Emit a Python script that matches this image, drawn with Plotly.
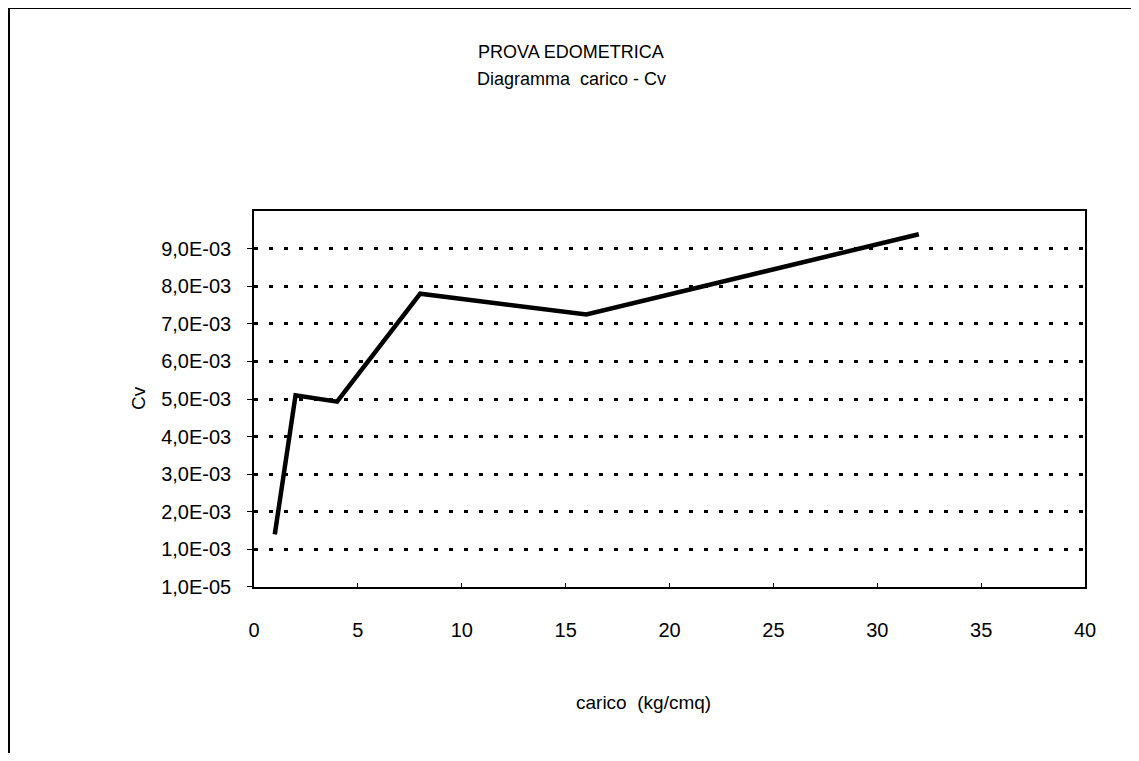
import plotly.graph_objects as go

# Data
carico = [1, 2, 4, 8, 16, 32]
cv = [1.40e-3, 5.10e-3, 4.93e-3, 7.80e-3, 7.25e-3, 9.38e-3]

y_tickvals = [1e-5, 1e-3, 2e-3, 3e-3, 4e-3, 5e-3, 6e-3, 7e-3, 8e-3, 9e-3]
y_ticktext = ["1,0E-05", "1,0E-03", "2,0E-03", "3,0E-03", "4,0E-03",
              "5,0E-03", "6,0E-03", "7,0E-03", "8,0E-03", "9,0E-03"]

# page body has an 8px default margin
OFF = 8
W, H = 1139 - 2 * OFF, 761 - 2 * OFF
# desired on-screen plot area
L, R, T, B = 254, 1085, 211, 587

FONT = "Arial, 'Liberation Sans', sans-serif"

fig = go.Figure()
fig.add_trace(go.Scatter(x=carico, y=cv, mode="lines",
                         line=dict(color="black", width=4.5),
                         showlegend=False, hoverinfo="skip"))

def px_x(px):
    return (px - L) / (R - L)

def px_y(py):
    return (B - py) / (B - T)

fig.update_layout(
    width=W, height=H,
    margin=dict(l=L - OFF, r=(OFF + W) - R, t=T - OFF, b=(OFF + H) - B, pad=0),
    paper_bgcolor="white", plot_bgcolor="white",
    font=dict(family=FONT, color="black", size=20),
    xaxis=dict(range=[0, 40], tickmode="linear", tick0=0, dtick=5,
               showgrid=False, zeroline=False,
               showline=True, linecolor="black", linewidth=1.5, mirror=True,
               ticks="inside", ticklen=4, tickcolor="black",
               tickfont=dict(size=20), ticklabelstandoff=24),
    yaxis=dict(range=[0, 0.01], tickmode="array", tickvals=y_tickvals,
               ticktext=y_ticktext,
               showgrid=True, gridcolor="black", gridwidth=2.5,
               griddash="4px,11px",
               zeroline=False,
               showline=True, linecolor="black", linewidth=1.5, mirror=True,
               ticks="outside", ticklen=5, tickcolor="black",
               tickfont=dict(size=20), ticklabelstandoff=12),
    annotations=[
        dict(text="PROVA EDOMETRICA", x=px_x(571), y=px_y(52), xref="paper", yref="paper",
             showarrow=False, font=dict(size=18), xanchor="center", yanchor="middle"),
        dict(text="Diagramma&nbsp;&nbsp;carico - Cv", x=px_x(571), y=px_y(79), xref="paper", yref="paper",
             showarrow=False, font=dict(size=18), xanchor="center", yanchor="middle"),
        dict(text="carico&nbsp;&nbsp;(kg/cmq)", x=px_x(643), y=px_y(702), xref="paper", yref="paper",
             showarrow=False, font=dict(size=19), xanchor="center", yanchor="middle"),
        dict(text="Cv", x=px_x(138), y=px_y(398), xref="paper", yref="paper",
             showarrow=False, font=dict(size=19), textangle=-90,
             xanchor="center", yanchor="middle"),
    ],
    shapes=[
        dict(type="line", xref="paper", yref="paper",
             x0=px_x(9), x1=px_x(1133), y0=px_y(8), y1=px_y(8),
             line=dict(color="black", width=2)),
        dict(type="line", xref="paper", yref="paper",
             x0=px_x(9), x1=px_x(9), y0=px_y(8), y1=px_y(761),
             line=dict(color="black", width=2)),
    ],
)

fig.write_html("out.html")
